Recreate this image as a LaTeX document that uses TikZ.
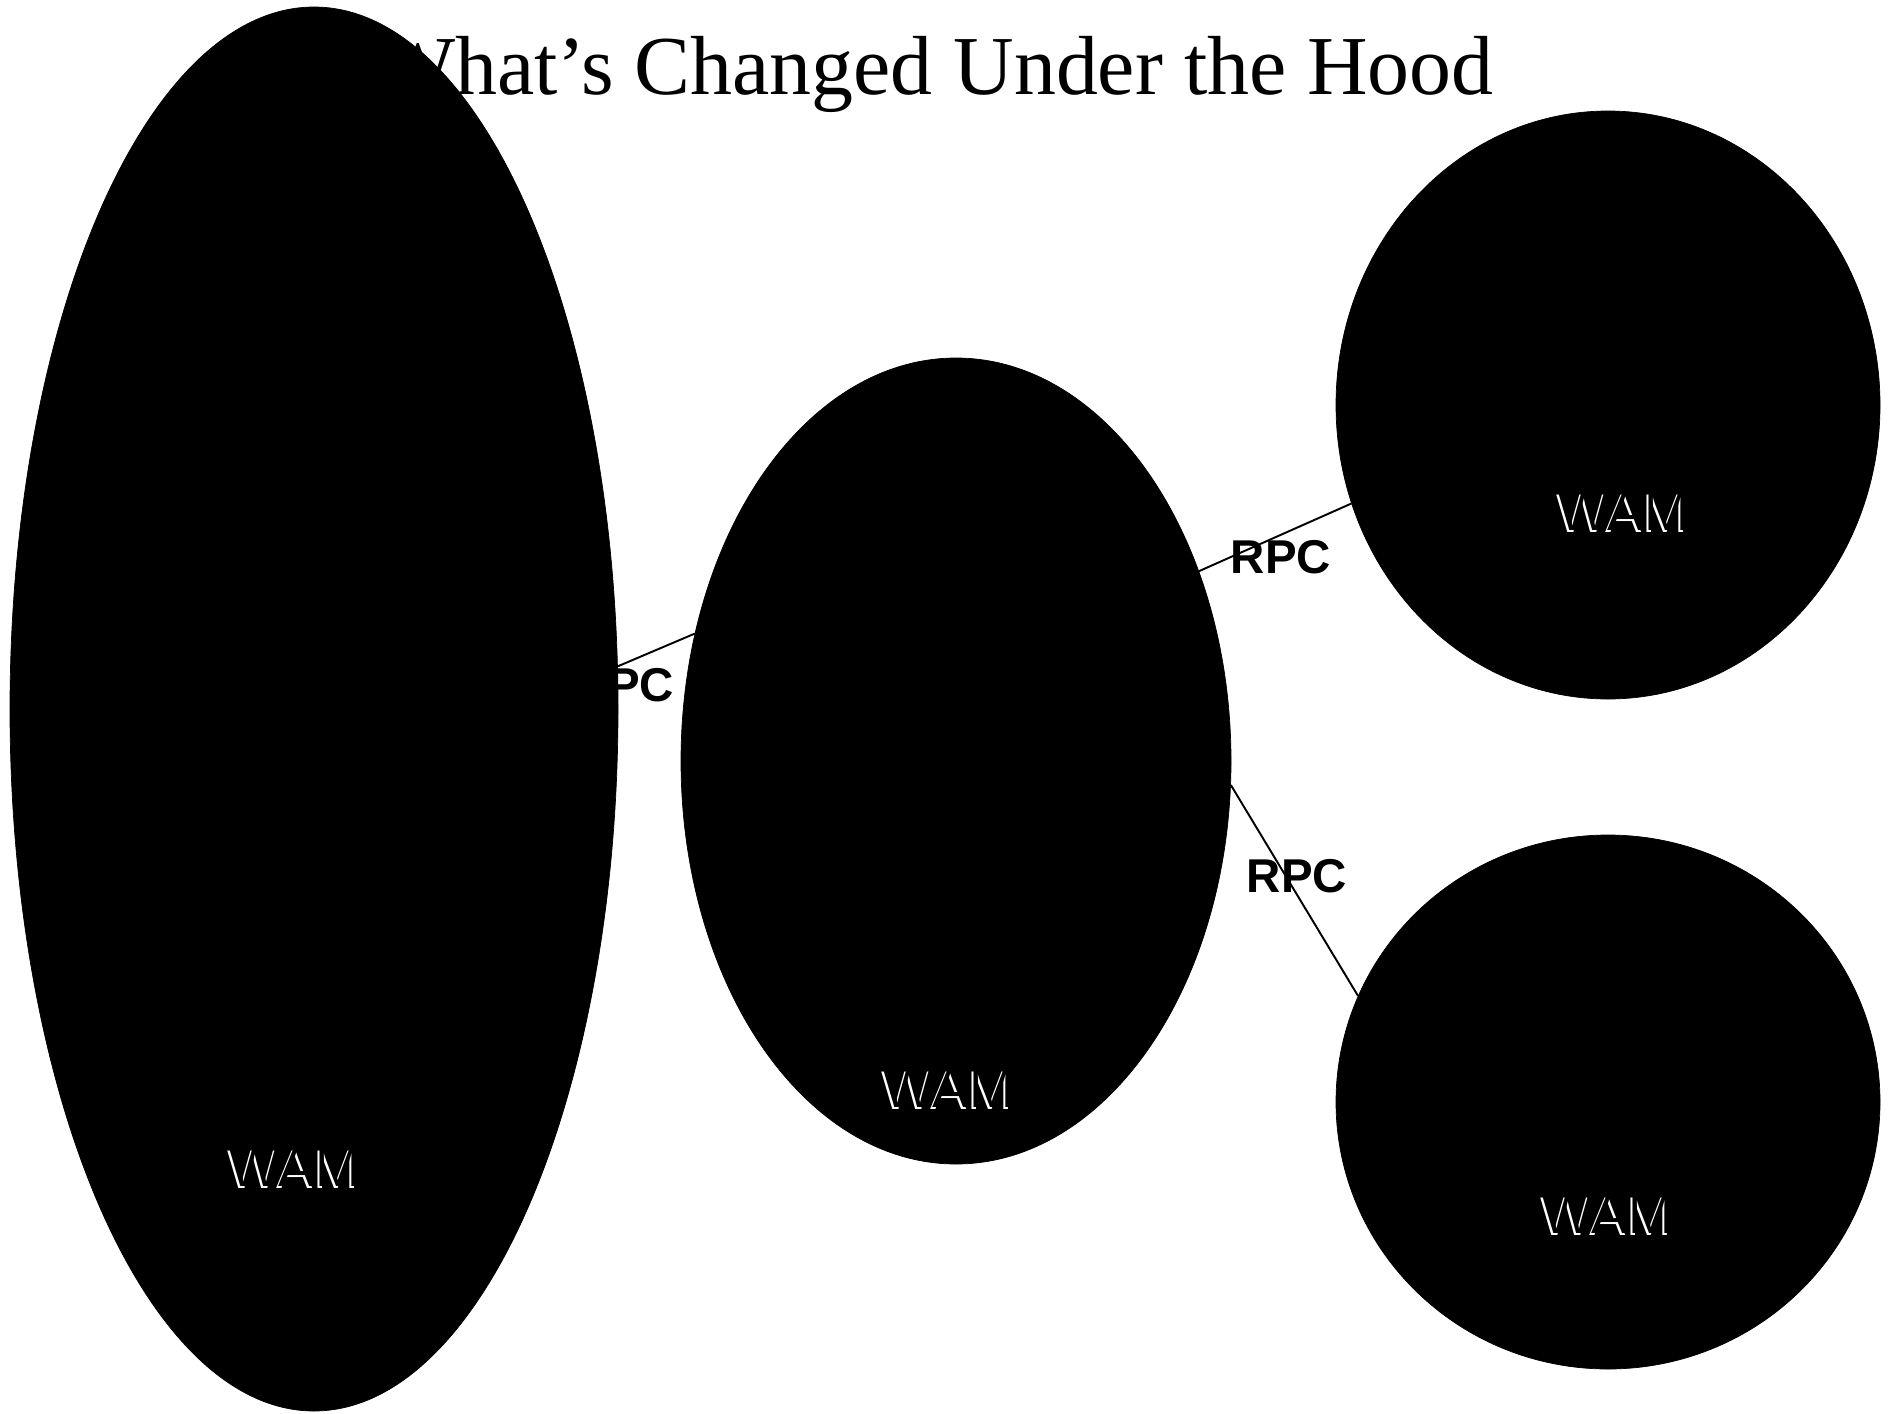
\documentclass[tikz,border=0pt]{standalone}
\usepackage{fontspec}
\setmainfont{Liberation Serif}
\setsansfont{Liberation Sans}
\usetikzlibrary{shapes.geometric,backgrounds}
\newcommand{\wamtext}{\makebox[0pt][l]{\raisebox{-0.9pt}{\kern-1.1pt\textcolor{white}{WAM}}}WAM}
\tikzset{
    wamblob/.style={
        ellipse,
        fill=black,
        draw=black,
        inner sep=0pt
    },
    wamlabel/.style={
        font=\sffamily\fontsize{31}{33}\selectfont,
        text=black,
        inner sep=0pt
    },
    rpclabel/.style={
        font=\sffamily\bfseries\fontsize{27}{29}\selectfont,
        inner sep=0pt
    },
    rpcline/.style={
        draw=black,
        line width=1.1pt
    }
}
\begin{document}
\begin{tikzpicture}
    \useasboundingbox (0,0) rectangle (37.88,-28.26);
    \node[anchor=base,font=\fontsize{47.7}{51}\selectfont] (title) at (18.7,-1.89)
        {What’s Changed Under the Hood};

    \node[wamblob,minimum width=12.16cm,minimum height=28.08cm] (left) at (6.28,-14.18) {};
    \node[wamblob,minimum width=11.0cm,minimum height=16.12cm] (middle) at (19.12,-15.22) {};
    \node[wamblob,minimum width=10.88cm,minimum height=11.76cm] (upper) at (32.16,-8.10) {};
    \node[wamblob,minimum width=10.88cm,minimum height=10.68cm] (lower) at (32.16,-22.04) {};

    \node[wamlabel] (leftwam) at (5.90,-23.38) {\wamtext};
    \node[wamlabel] (middlewam) at (18.98,-21.80) {\wamtext};
    \node[wamlabel] (upperwam) at (32.48,-10.26) {\wamtext};
    \node[wamlabel] (lowerwam) at (32.16,-24.32) {\wamtext};

    % connectors sit behind the blobs
    \begin{scope}[on background layer]
        \draw[rpcline] (left.8) -- (middle.154);
        \draw[rpcline] (middle.38) -- (upper.201);
        \draw[rpcline] (middle.-5) -- (lower.157);
        \node[rpclabel] (rpcleft) at (12.48,-13.70) {RPC};
        \node[rpclabel] (rpcupper) at (25.62,-11.14) {RPC};
        \node[rpclabel] (rpclower) at (25.94,-17.52) {RPC};
    \end{scope}
\end{tikzpicture}
\end{document}
